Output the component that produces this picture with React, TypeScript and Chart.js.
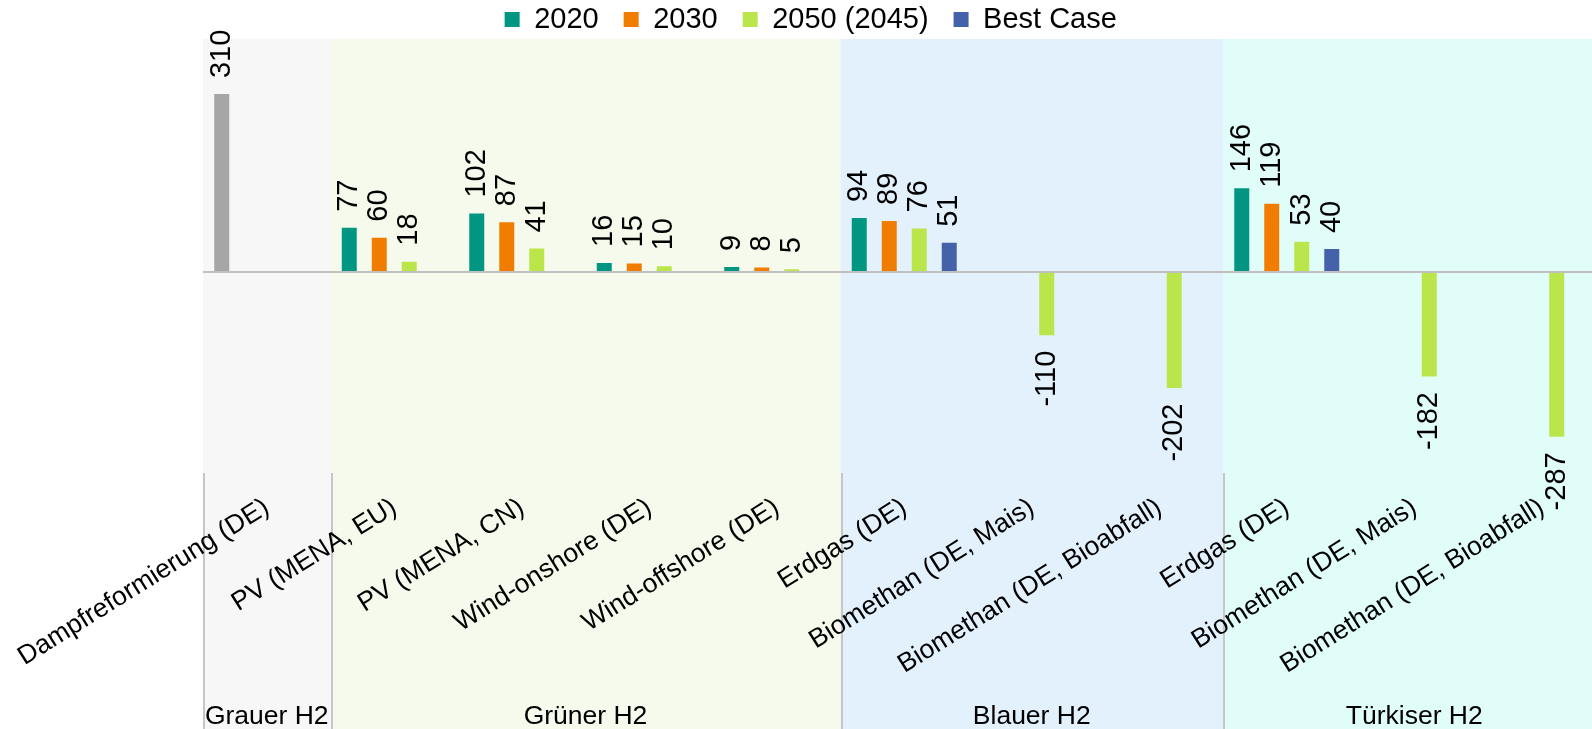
import React, { useEffect, useRef } from 'react';
import { Chart, registerables } from 'chart.js';

Chart.register(...registerables);

// ---------- data ----------
const categories = [
  'Dampfreformierung (DE)',
  'PV (MENA, EU)',
  'PV (MENA, CN)',
  'Wind-onshore (DE)',
  'Wind-offshore (DE)',
  'Erdgas (DE)',
  'Biomethan (DE, Mais)',
  'Biomethan (DE, Bioabfall)',
  'Erdgas (DE)',
  'Biomethan (DE, Mais)',
  'Biomethan (DE, Bioabfall)',
];
const seriesNames = ['2020', '2030', '2050 (2045)', 'Best Case'];
const values2020 = [310, 77, 102, 16, 9, 94, null, null, 146, null, null];
const values2030 = [null, 60, 87, 15, 8, 89, null, null, 119, null, null];
const values2050 = [null, 18, 41, 10, 5, 76, -110, -202, 53, -182, -287];
const valuesBest = [null, null, null, null, null, 51, null, null, 40, null, null];
const groupNames = ['Grauer H2', 'Grüner H2', 'Blauer H2', 'Türkiser H2'];
const groupSizes = [1, 4, 3, 3];

// ---------- styles ----------
const seriesColors = ['#009682', '#F07D00', '#BBE64B', '#4561AA'];
const greyBarColor = '#A6A6A6';
const groupFills = ['#F7F7F7', '#F6FAEC', '#E3F1FD', '#E0FDFA'];
const FONT = '"Liberation Sans", Arial, sans-serif';
const CANVAS_W = 1616;
const CANVAS_H = 729;

const layoutPlugin = {
  id: 'layoutTweaks',
  beforeInit(chart: any) {
    const legend = chart.legend;
    if (legend) {
      const origFit = legend.fit;
      legend.fit = function () {
        origFit.call(this);
        this.height = 39;
      };
    }
  },
  afterLayout(chart: any) {
    const lg = chart.legend;
    if (lg) {
      // move the legend row up (keep bottom so the legend clip box still covers the text)
      lg.top -= 20;
      lg.left += 8;
      lg.right += 8;
    }
  },
};

const groupPlugin = {
  id: 'groupShading',
  beforeDraw(chart: any) {
    const { ctx, chartArea, scales } = chart;
    const x = scales.x;
    const half = (x.getPixelForValue(1) - x.getPixelForValue(0)) / 2;
    let start = 0;
    ctx.save();
    groupSizes.forEach((n, g) => {
      const x0 = x.getPixelForValue(start) - half;
      const x1 = x.getPixelForValue(start + n - 1) + half;
      ctx.fillStyle = groupFills[g];
      ctx.fillRect(x0, chartArea.top, x1 - x0, chart.height - chartArea.top);
      start += n;
    });
    start = 0;
    ctx.strokeStyle = '#C6C6C6';
    ctx.lineWidth = 2;
    groupSizes.forEach((n) => {
      const x0 = Math.round(x.getPixelForValue(start) - half) + 1;
      ctx.beginPath();
      ctx.moveTo(x0, chartArea.bottom);
      ctx.lineTo(x0, chart.height);
      ctx.stroke();
      start += n;
    });
    ctx.restore();
  },
  afterDraw(chart: any) {
    const { ctx, scales } = chart;
    const x = scales.x;
    let start = 0;
    ctx.save();
    ctx.font = `26.5px ${FONT}`;
    ctx.fillStyle = '#000';
    ctx.textAlign = 'center';
    ctx.textBaseline = 'alphabetic';
    groupSizes.forEach((n, g) => {
      const cx = (x.getPixelForValue(start) + x.getPixelForValue(start + n - 1)) / 2;
      ctx.fillText(groupNames[g], cx, 724);
      start += n;
    });
    ctx.restore();
  },
};

const valueLabelPlugin = {
  id: 'valueLabels',
  afterDatasetsDraw(chart: any) {
    const { ctx } = chart;
    ctx.save();
    ctx.font = `29px ${FONT}`;
    ctx.fillStyle = '#000';
    ctx.textBaseline = 'middle';
    chart.data.datasets.forEach((ds: any, di: number) => {
      const meta = chart.getDatasetMeta(di);
      meta.data.forEach((bar: any, i: number) => {
        const v = ds.data[i];
        if (v === null || v === undefined) return;
        ctx.save();
        if (v >= 0) {
          ctx.translate(bar.x, bar.y - 16);
          ctx.rotate(-Math.PI / 2);
          ctx.textAlign = 'left';
        } else {
          ctx.translate(bar.x, bar.y + 15.5);
          ctx.rotate(-Math.PI / 2);
          ctx.textAlign = 'right';
        }
        ctx.fillText(String(v), 0, 0);
        ctx.restore();
      });
    });
    ctx.restore();
  },
};

export default function App() {
  const canvasRef = useRef<HTMLCanvasElement | null>(null);

  useEffect(() => {
    const canvas = canvasRef.current;
    if (!canvas) return;
    Chart.defaults.font.family = FONT;
    const seriesValues = [values2020, values2030, values2050, valuesBest];
    const chart = new Chart(canvas, {
      type: 'bar',
      data: {
        labels: categories,
        datasets: seriesValues.map((vals, si) => ({
          label: seriesNames[si],
          data: vals,
          backgroundColor:
            si === 0
              ? (c: any) => (c.dataIndex === 0 ? greyBarColor : seriesColors[0])
              : seriesColors[si],
          borderWidth: 0,
          categoryPercentage: 0.941,
          barPercentage: 0.5,
        })),
      },
      options: {
        responsive: false,
        animation: false,
        devicePixelRatio: 1,
        layout: { padding: { left: 0, right: CANVAS_W - 1605.5, top: 0, bottom: 0 } },
        plugins: {
          tooltip: { enabled: false },
          legend: {
            display: true,
            position: 'top',
            labels: {
              font: { size: 29, family: FONT },
              color: '#000',
              boxWidth: 15,
              boxHeight: 15,
              padding: 25,
              generateLabels: () =>
                seriesNames.map((n, i) => ({
                  text: n,
                  fillStyle: seriesColors[i],
                  strokeStyle: seriesColors[i],
                  lineWidth: 0,
                  hidden: false,
                  datasetIndex: i,
                })),
            },
          },
        },
        scales: {
          x: {
            grid: { display: false, drawTicks: false },
            border: { display: false },
            ticks: {
              autoSkip: false,
              minRotation: 32,
              maxRotation: 32,
              color: '#000',
              font: { size: 26.5, family: FONT },
              padding: 19,
            },
            afterFit: (s: any) => {
              s.height = 256;
              s.paddingLeft = 0;
              s.paddingRight = 0;
            },
          },
          y: {
            min: -350,
            max: 406,
            ticks: { display: false, stepSize: 50 },
            border: { display: false },
            grid: {
              drawTicks: false,
              lineWidth: 2,
              color: (c: any) => (c.tick && c.tick.value === 0 ? '#C0C0C0' : 'rgba(0,0,0,0)'),
            },
            afterFit: (s: any) => {
              s.width = 203;
            },
          },
        },
      },
      plugins: [layoutPlugin, groupPlugin, valueLabelPlugin],
    } as any);
    return () => chart.destroy();
  }, []);

  return (
    <div
      style={{
        position: 'fixed',
        left: 0,
        top: 0,
        width: 1592,
        height: 729,
        overflow: 'hidden',
        background: '#fff',
      }}
    >
      <canvas
        ref={canvasRef}
        width={CANVAS_W}
        height={CANVAS_H}
        style={{ width: CANVAS_W, height: CANVAS_H, display: 'block' }}
      />
    </div>
  );
}
